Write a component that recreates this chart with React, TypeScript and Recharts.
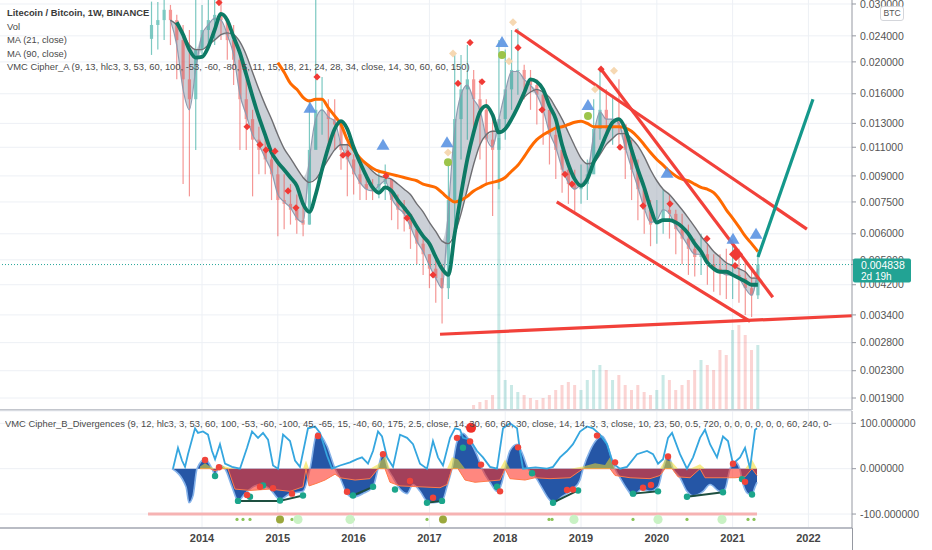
import React from "react";
import {
  ComposedChart,
  Bar,
  Line,
  Area,
  Scatter,
  XAxis,
  YAxis,
  ReferenceLine,
  CartesianGrid,
} from "recharts";

const FONT = "'Liberation Sans', Arial, sans-serif";

// ---------- axes ----------
const YEAR_TICKS = [2014, 2015, 2016, 2017, 2018, 2019, 2020, 2021, 2022];
const PRICE_TICKS = [0.03, 0.024, 0.02, 0.016, 0.013, 0.011, 0.009, 0.0075, 0.006, 0.005, 0.0042, 0.0034, 0.0028, 0.0023, 0.0019];
const OSC_TICKS = [100, 0, -100];
const X_DOMAIN = [2011.335, 2022.575];
const PRICE_DOMAIN = [0.001747, 0.03085];
const VOL_DOMAIN = [0, 410];
const OSC_DOMAIN = [-130.8, 127.2];
const LAST_PRICE = 0.004838;
const COUNTDOWN = "2d 19h";

// ---------- monthly candles (first month May 2013) ----------
const FIRST_YEAR = 2013;
const FIRST_MONTH = 5;
const FIRST_OPEN = 0.0235;

const HIGH = [
  0.0305, 0.0304, 0.0309, 0.0298, 0.0278, 0.0259, 0.025, 0.0309, 0.0298, 0.0309,
  0.0309, 0.0309, 0.0268, 0.0259, 0.0218, 0.0177, 0.0143, 0.0127, 0.012, 0.0108,
  0.0101, 0.0091, 0.0085, 0.0079, 0.0074, 0.0154, 0.0309, 0.018, 0.0154, 0.0154,
  0.0125, 0.0116, 0.01045, 0.0101, 0.0091, 0.0088, 0.0094, 0.00975, 0.0085, 0.0079,
  0.0076, 0.0069, 0.0064, 0.0058, 0.0052, 0.005, 0.00485, 0.0101, 0.021, 0.021,
  0.0225, 0.0189, 0.0177, 0.0154, 0.0138, 0.0233, 0.0218, 0.025, 0.0253, 0.0196,
  0.0189, 0.0177, 0.0165, 0.0143, 0.0129, 0.0108, 0.0101, 0.0094, 0.00975, 0.0101,
  0.0154, 0.0189, 0.0165, 0.0159, 0.0177, 0.0129, 0.0116, 0.0101, 0.0085, 0.0076,
  0.0076, 0.0082, 0.0079, 0.0071, 0.0069, 0.0064, 0.0058, 0.006, 0.0056, 0.0052,
  0.0052, 0.0054, 0.0058, 0.0054, 0.005, 0.0047, 0.0053,
];
const LOW = [
  0.021, 0.0218, 0.0233, 0.0225, 0.0177, 0.0085, 0.0078, 0.0108, 0.021, 0.0218,
  0.0225, 0.0233, 0.0203, 0.017, 0.0108, 0.0108, 0.0078, 0.0091, 0.0091, 0.0076,
  0.0059, 0.0062, 0.0064, 0.006, 0.0059, 0.0064, 0.0116, 0.012, 0.0112, 0.0108,
  0.0094, 0.0078, 0.0079, 0.0076, 0.0076, 0.0076, 0.0077, 0.0076, 0.0066, 0.0062,
  0.0061, 0.0054, 0.00485, 0.0045, 0.0041, 0.0037, 0.0032, 0.0038, 0.0062, 0.0101,
  0.0116, 0.012, 0.0101, 0.0085, 0.0068, 0.0082, 0.0116, 0.0143, 0.0159, 0.0154,
  0.0143, 0.0129, 0.0112, 0.00975, 0.0088, 0.008, 0.0074, 0.007, 0.0074, 0.0076,
  0.0094, 0.0116, 0.012, 0.0112, 0.0108, 0.0088, 0.0076, 0.0066, 0.006, 0.0055,
  0.0056, 0.006, 0.0058, 0.0052, 0.00485, 0.0045, 0.00445, 0.0045, 0.0042, 0.004,
  0.0039, 0.0038, 0.0038, 0.0037, 0.0034, 0.00335, 0.0038,
];
const CLOSE = [
  0.0259, 0.0268, 0.0288, 0.0268, 0.0233, 0.0177, 0.0154, 0.0218, 0.025, 0.0268,
  0.0278, 0.0268, 0.0233, 0.0203, 0.0154, 0.0134, 0.0116, 0.0108, 0.0101, 0.0091,
  0.0076, 0.0074, 0.0071, 0.0066, 0.0064, 0.0108, 0.0143, 0.0143, 0.0134, 0.0129,
  0.0108, 0.0101, 0.0091, 0.0085, 0.0082, 0.0081, 0.0085, 0.0088, 0.0076, 0.0071,
  0.0069, 0.0062, 0.0056, 0.0052, 0.0047, 0.0044, 0.0041, 0.0076, 0.0134, 0.0165,
  0.0177, 0.0154, 0.0143, 0.0116, 0.0108, 0.0134, 0.0165, 0.0189, 0.0189, 0.0177,
  0.017, 0.0159, 0.0143, 0.012, 0.0108, 0.0094, 0.0085, 0.0082, 0.0085, 0.0091,
  0.0125, 0.0143, 0.0134, 0.0134, 0.0129, 0.0108, 0.0094, 0.0082, 0.0071, 0.0064,
  0.0066, 0.0071, 0.0069, 0.0062, 0.0058, 0.0054, 0.0051, 0.0052, 0.00485, 0.0047,
  0.00462, 0.0045, 0.0045, 0.0044, 0.0041, 0.0039, 0.004838,
];
const MA21 = [
  null, null, null, null, 0.0264, 0.0242, 0.0218, 0.0206, 0.0207, 0.0222,
  0.025, 0.028, 0.0268, 0.0238, 0.0213, 0.0183, 0.0157, 0.0136, 0.012, 0.0106,
  0.0099, 0.0094, 0.0089, 0.0084, 0.0074, 0.007, 0.0079, 0.0094, 0.011, 0.0125,
  0.0132, 0.0125, 0.011, 0.0099, 0.009, 0.0083, 0.008, 0.0083, 0.0081, 0.0076,
  0.0072, 0.0068, 0.0063, 0.0059, 0.0056, 0.0051, 0.0047, 0.0045, 0.006, 0.0079,
  0.0101, 0.0122, 0.0141, 0.0147, 0.0138, 0.0122, 0.0125, 0.0134, 0.0146, 0.0161,
  0.0177, 0.0174, 0.0165, 0.0147, 0.0134, 0.0112, 0.00975, 0.0088, 0.0084, 0.0088,
  0.0099, 0.0108, 0.012, 0.0131, 0.0134, 0.0125, 0.0108, 0.0094, 0.0083, 0.0072,
  0.0065, 0.0066, 0.0066, 0.0065, 0.0063, 0.006, 0.0056, 0.0053, 0.0049, 0.0047,
  0.0046, 0.0046, 0.0045, 0.0044, 0.0043, 0.0042, 0.0042,
];
const MA90 = [
  null, null, null, null, null, null, null, null, null, null,
  null, null, null, null, null, null, null, null, null, null,
  0.0199, 0.0186, 0.0172, 0.0165, 0.0156, 0.0152, 0.0154, 0.0154, 0.0145, 0.0137,
  0.0129, 0.0116, 0.0108, 0.0102, 0.0098, 0.0095, 0.0093, 0.0092, 0.0091, 0.009,
  0.0089, 0.0088, 0.0087, 0.0085, 0.0084, 0.0083, 0.008, 0.0077, 0.0075, 0.0076,
  0.0078, 0.0081, 0.0083, 0.0085, 0.0086, 0.0087, 0.0089, 0.0093, 0.0097, 0.0103,
  0.011, 0.0116, 0.012, 0.0123, 0.0126, 0.0127, 0.0129, 0.0131, 0.0132, 0.013,
  0.0127, 0.0127, 0.0127, 0.0127, 0.0127, 0.0126, 0.0123, 0.0118, 0.0112, 0.0106,
  0.0101, 0.0097, 0.0093, 0.009, 0.0088, 0.0087, 0.0085, 0.0083, 0.0082, 0.008,
  0.0076, 0.0071, 0.0067, 0.0063, 0.0059, 0.0056, 0.0053,
];
const EMA_FAST = [
  null, null, null, 0.0268, 0.0225, 0.0165, 0.0143, 0.0189, 0.0242, 0.0259,
  0.0272, 0.0268, 0.0242, 0.021, 0.0159, 0.0138, 0.012, 0.0112, 0.0102, 0.0093,
  0.0079, 0.0075, 0.0072, 0.0067, 0.0065, 0.0101, 0.0134, 0.0143, 0.0136, 0.0132,
  0.0112, 0.0102, 0.0093, 0.0086, 0.0082, 0.0081, 0.0084, 0.0087, 0.0077, 0.0072,
  0.0069, 0.0063, 0.0057, 0.0053, 0.0048, 0.0044, 0.0041, 0.0071, 0.0125, 0.0159,
  0.017, 0.0154, 0.0143, 0.0118, 0.011, 0.0134, 0.0162, 0.0187, 0.0187, 0.0177,
  0.017, 0.0159, 0.0143, 0.0122, 0.011, 0.0095, 0.0086, 0.0082, 0.0085, 0.009,
  0.012, 0.0141, 0.0134, 0.0134, 0.013, 0.011, 0.0095, 0.0083, 0.0072, 0.0065,
  0.0066, 0.0071, 0.0069, 0.0063, 0.0059, 0.0055, 0.0052, 0.0052, 0.0049, 0.0047,
  0.0046, 0.0045, 0.0045, 0.0044, 0.0041, 0.0039, 0.0047,
];
const EMA_SLOW = [
  null, null, null, 0.0268, 0.0259, 0.0242, 0.0225, 0.0218, 0.0218, 0.0225,
  0.0233, 0.0242, 0.0245, 0.0242, 0.023, 0.021, 0.0186, 0.0165, 0.0148, 0.0134,
  0.012, 0.0109, 0.0102, 0.0095, 0.0089, 0.0086, 0.0088, 0.0094, 0.0101, 0.0108,
  0.0112, 0.0112, 0.0108, 0.0102, 0.00975, 0.0093, 0.009, 0.0089, 0.0088, 0.0085,
  0.0082, 0.0079, 0.0074, 0.007, 0.0065, 0.0061, 0.0057, 0.0056, 0.006, 0.0069,
  0.0082, 0.00975, 0.0112, 0.012, 0.0123, 0.0123, 0.0126, 0.0135, 0.0145, 0.0156,
  0.0162, 0.0165, 0.0162, 0.0156, 0.0145, 0.0134, 0.0122, 0.0111, 0.0102, 0.0098,
  0.0099, 0.01045, 0.0112, 0.0117, 0.0121, 0.0121, 0.0117, 0.0111, 0.0103, 0.0094,
  0.0087, 0.0082, 0.0079, 0.0075, 0.0071, 0.0067, 0.0063, 0.0059, 0.0056, 0.0053,
  0.0051, 0.0049, 0.0048, 0.0047, 0.0046, 0.0044, 0.0044,
];
const VOLUME = [
  0, 0, 0, 0, 0, 0, 0, 0, 0, 0,
  0, 0, 0, 0, 0, 0, 0, 0, 0, 0,
  0, 0, 0, 0, 0, 0, 0, 0, 0, 0,
  0, 0, 0, 0, 0, 0, 0, 0, 0, 0,
  0, 0, 0, 0, 0, 0, 0, 0, 0, 0,
  0, 5, 8, 10, 15, 272, 30, 25, 18, 15,
  12, 10, 12, 15, 20, 25, 28, 25, 20, 30,
  40, 45, 40, 30, 35, 25, 20, 25, 18, 15,
  20, 35, 30, 20, 25, 30, 40, 50, 45, 40,
  60, 55, 80, 85, 75, 60, 65,
];

// ---------- drawn objects on the price pane ----------
const TRENDLINES = [
  { x1: 2017.14, y1: 0.00297, x2: 2022.575, y2: 0.00338 },
  { x1: 2018.13, y1: 0.025, x2: 2021.98, y2: 0.0062 },
  { x1: 2018.68, y1: 0.0075, x2: 2021.23, y2: 0.00325 },
  { x1: 2019.25, y1: 0.0192, x2: 2021.53, y2: 0.00385 },
];
const PROJECTION = { x1: 2021.335, y1: 0.0051, x2: 2022.06, y2: 0.0154 };

const TRIANGLES = [
  [2015.425, 0.0145], [2016.388, 0.0112], [2017.232, 0.0114], [2017.958, 0.023],
  [2019.092, 0.0148], [2020.135, 0.0092], [2021.005, 0.0058], [2021.309, 0.006],
];
const RED_DIAMONDS = [
  [2014.224, 0.0303], [2015.517, 0.018], [2014.594, 0.0127], [2014.765, 0.0112],
  [2014.844, 0.0108], [2014.963, 0.0107], [2015.135, 0.0081], [2015.24, 0.0072],
  [2015.86, 0.0104], [2015.926, 0.0105], [2016.427, 0.009], [2016.705, 0.0067],
  [2017.048, 0.0045], [2017.377, 0.0172], [2017.536, 0.0229], [2017.694, 0.0174],
  [2018.169, 0.0221], [2018.486, 0.0143], [2018.789, 0.0091], [2018.881, 0.0085],
  [2019.264, 0.019], [2019.515, 0.011], [2019.818, 0.0073], [2020.174, 0.0074],
  [2020.662, 0.0058], [2021.032, 0.0048],
];
const BIG_DIAMONDS = [[2021.045, 0.0052]];
const PALE_DIAMONDS = [
  [2017.311, 0.0212], [2017.245, 0.0106], [2018.103, 0.0264], [2018.05, 0.0201],
  [2019.435, 0.0188], [2019.185, 0.0165],
];
const GREEN_DOTS = [[2017.245, 0.0099], [2017.958, 0.021], [2019.092, 0.0137]];

// ---------- oscillator pane ----------
const STOCH = [
  [2013.617, 0], [2013.683, 46], [2013.736, 18], [2013.776, 4], [2013.815, 32], [2013.908, 89],
  [2013.947, 79], [2014.013, 82], [2014.079, 75], [2014.132, 39], [2014.172, 21], [2014.237, 54],
  [2014.303, 11], [2014.396, 4], [2014.501, 0], [2014.594, 46], [2014.66, 82], [2014.739, 68],
  [2014.805, 79], [2014.871, 64], [2014.937, 7], [2015.003, 0], [2015.069, 75], [2015.161, 61],
  [2015.227, 18], [2015.293, 4], [2015.398, 89], [2015.491, 93], [2015.557, 79], [2015.649, 29],
  [2015.715, 0], [2015.821, 7], [2015.953, 14], [2016.045, 21], [2016.111, 25], [2016.19, 11],
  [2016.256, 39], [2016.322, 82], [2016.375, 71], [2016.441, 25], [2016.52, 4], [2016.612, 75],
  [2016.705, 68], [2016.784, 54], [2016.876, 11], [2016.968, 0], [2017.047, 61], [2017.113, 25],
  [2017.179, 7], [2017.272, 68], [2017.338, 89], [2017.404, 86], [2017.443, 68], [2017.536, 64],
  [2017.628, 39], [2017.707, 25], [2017.799, 4], [2017.892, 0], [2017.971, 89], [2018.063, 100],
  [2018.156, 89], [2018.195, 39], [2018.235, 0], [2018.4, 3], [2018.551, 0], [2018.631, 4],
  [2018.723, 25], [2018.815, 39], [2018.894, 54], [2018.987, 82], [2019.079, 93], [2019.158, 89],
  [2019.251, 75], [2019.343, 54], [2019.422, 11], [2019.514, 0], [2019.607, 4], [2019.739, 32],
  [2019.871, 39], [2019.95, 32], [2020.016, 11], [2020.082, 21], [2020.148, 68], [2020.201, 79],
  [2020.306, 32], [2020.398, 0], [2020.478, 25], [2020.57, 68], [2020.636, 86], [2020.702, 54],
  [2020.794, 25], [2020.873, 71], [2020.939, 61], [2021.005, 11], [2021.098, 25], [2021.164, 46],
  [2021.23, 0], [2021.296, 86], [2021.322, 89],
];
const WAVE = [
  [2013.604, 0], [2013.789, -40], [2013.828, -75], [2013.881, -60], [2013.934, 0], [2014.04, 21],
  [2014.132, 0], [2014.172, -14], [2014.211, 0], [2014.251, 7], [2014.303, 0], [2014.396, -40],
  [2014.475, -71], [2014.567, -55], [2014.673, -40], [2014.765, -35], [2014.897, -45], [2015.029, -68],
  [2015.161, -55], [2015.332, -50], [2015.425, 0], [2015.517, 79], [2015.583, 70], [2015.649, 50],
  [2015.755, 0], [2015.821, -20], [2015.913, -55], [2015.992, -63], [2016.124, -55], [2016.256, -40],
  [2016.322, 0], [2016.388, 36], [2016.454, 0], [2016.52, -20], [2016.612, -45], [2016.705, -55],
  [2016.784, -35], [2016.876, -50], [2016.968, -72], [2017.048, -75], [2017.166, -72], [2017.232, -40],
  [2017.298, 0], [2017.364, 60], [2017.443, 78], [2017.536, 60], [2017.628, 30], [2017.694, 0],
  [2017.799, -30], [2017.892, -50], [2017.958, -30], [2017.998, 0], [2018.063, 40], [2018.156, 54],
  [2018.235, 30], [2018.301, 0], [2018.367, -10], [2018.459, -35], [2018.591, -70], [2018.631, -75],
  [2018.763, -60], [2018.894, -45], [2018.987, -25], [2019.027, 0], [2019.119, 40], [2019.211, 65],
  [2019.277, 72], [2019.343, 55], [2019.409, 20], [2019.449, 0], [2019.515, -20], [2019.607, -45],
  [2019.686, -60], [2019.805, -45], [2019.91, -50], [2020.016, -40], [2020.082, 0], [2020.148, 30],
  [2020.214, 0], [2020.306, -20], [2020.398, -50], [2020.478, -60], [2020.61, -50], [2020.702, -35],
  [2020.834, -50], [2020.9, -45], [2020.966, 0], [2021.032, 15], [2021.095, 0], [2021.124, -25],
  [2021.203, -55], [2021.256, -57], [2021.296, -40], [2021.322, -30],
];
const MFI = [
  [2013.974, 5], [2014.04, 12], [2014.106, 5], [2014.172, -5], [2014.237, 8], [2014.343, 3],
  [2014.435, -45], [2014.633, -48], [2014.897, -45], [2015.161, -50], [2015.332, -40], [2015.372, 18],
  [2015.412, -38], [2015.517, -32], [2015.623, -25], [2015.755, -12], [2015.821, -20], [2016.019, -25],
  [2016.216, -22], [2016.322, 10], [2016.414, 28], [2016.48, -30], [2016.612, -38], [2016.876, -40],
  [2017.14, -42], [2017.232, -35], [2017.298, 25], [2017.377, 20], [2017.47, -25], [2017.602, -30],
  [2017.734, -28], [2017.932, -25], [2017.998, 20], [2018.063, -22], [2018.261, -25], [2018.393, -20],
  [2018.591, -22], [2018.855, -20], [2019.027, 5], [2019.185, 12], [2019.317, 8], [2019.383, 25],
  [2019.449, -15], [2019.647, -20], [2019.91, -22], [2020.042, -15], [2020.108, 20], [2020.201, 15],
  [2020.28, -18], [2020.438, -20], [2020.57, 10], [2020.636, -20], [2020.834, -20], [2021.032, -20],
  [2021.164, -18], [2021.256, 20], [2021.322, -15],
];
const OSC_GREEN = [
  [2014.172, -16], [2014.475, -71], [2014.633, -62], [2014.805, -37], [2015.029, -70], [2015.332, -59],
  [2015.992, -59], [2016.256, -40], [2016.546, -46], [2016.968, -75], [2017.166, -71], [2017.443, 46],
  [2017.892, -40], [2018.354, -10], [2018.631, -75], [2018.961, -48], [2019.686, -55], [2020.016, -50],
  [2020.398, -62], [2020.873, -52], [2021.124, -23], [2021.256, -57],
];
const OSC_RED = [
  [2014.04, 19], [2014.224, 3], [2014.594, -58], [2014.765, -40], [2014.937, -43], [2015.187, -55],
  [2015.53, 72], [2015.913, -51], [2016.388, 32], [2016.744, -27], [2017.048, -64], [2017.364, 68],
  [2017.536, 60], [2017.681, 9], [2017.932, -50], [2018.169, 47], [2018.815, -47], [2018.894, -46],
  [2019.211, 73], [2019.449, 14], [2019.818, -42], [2019.923, -36], [2020.148, 27], [2021.005, 11],
  [2021.164, -29],
];
const OSC_BIG_RED = [[2017.549, 90]];
const DIVERGENCES = [
  [2014.475, -71, 2015.029, -71], [2015.029, -71, 2015.332, -59], [2015.992, -59, 2016.256, -40],
  [2016.968, -75, 2017.166, -71], [2018.631, -75, 2018.961, -48], [2019.686, -55, 2020.016, -50],
  [2020.398, -62, 2020.873, -52],
];
const OVERSOLD_LINE = { x1: 2013.288, x2: 2021.322, y: -100 };
const SIGNAL_ROW = -112;
const SIGNAL_BIG_OLIVE = [2015.029, 2017.179];
const SIGNAL_BIG_LIGHT = [2015.266, 2015.953, 2018.907, 2020.016, 2020.86];
const SIGNAL_SMALL = [2014.462, 2014.541, 2014.633, 2015.187, 2015.992, 2016.968, 2018.578, 2018.618, 2019.686, 2020.398, 2021.203, 2021.282];

// ---------- derived tables ----------
const MONTHS = HIGH.map((_, i) => {
  const m = FIRST_MONTH - 1 + i;
  return FIRST_YEAR + Math.floor(m / 12) + (m % 12) / 12;
});
const priceRows = MONTHS.map((t, i) => ({
  t,
  open: i === 0 ? FIRST_OPEN : CLOSE[i - 1],
  high: HIGH[i],
  low: LOW[i],
  close: CLOSE[i],
  ma21: MA21[i],
  ma90: MA90[i],
  fast: EMA_FAST[i],
  slow: EMA_SLOW[i],
  vol: VOLUME[i] || null,
}));
const pts = (arr: number[][]) => arr.map(([t, p]) => ({ t, p }));
const oscRows = (arr: number[][]) => arr.map(([t, v]) => ({ t, v }));
const mfiRows = MFI.map(([t, v]) => ({ t, pos: Math.max(v, 0), neg: Math.min(v, 0) }));
// axis ticks: the live-price tag is drawn last so it sits on top of the other labels
const AXIS_TICKS = [...PRICE_TICKS, LAST_PRICE];

const UP = "#26a69a";
const DOWN = "#ef5350";

const Candle = (props: any) => {
  const { x, y, width, height, payload } = props;
  if (!payload || height == null || isNaN(y)) return null;
  const top = Math.min(y, y + height);
  const h = Math.abs(height);
  const cx = x + width / 2;
  const lh = Math.log(payload.high);
  const ll = Math.log(payload.low);
  const pos = (v: number) => top + (h * (lh - Math.log(v))) / (lh - ll || 1);
  const up = payload.close >= payload.open;
  const col = up ? UP : DOWN;
  const yo = pos(payload.open);
  const yc = pos(payload.close);
  return (
    <g opacity={0.6}>
      <line x1={cx} x2={cx} y1={top} y2={top + h} stroke={col} strokeWidth={1.2} />
      <rect x={cx - 1.6} width={3.2} y={Math.min(yo, yc)} height={Math.max(1, Math.abs(yo - yc))} fill={col} />
    </g>
  );
};

const VolBar = (props: any) => {
  const { x, y, width, height, payload } = props;
  if (!payload || !height || isNaN(y)) return null;
  const cx = x + width / 2;
  const up = payload.close >= payload.open;
  return <rect x={cx - 1.5} y={Math.min(y, y + height)} width={3} height={Math.abs(height)} fill={up ? UP : DOWN} opacity={0.25} />;
};

const Triangle = (p: any) => (
  <path d={`M${p.cx},${p.cy - 6} L${p.cx + 6.5},${p.cy + 5} L${p.cx - 6.5},${p.cy + 5} Z`} fill="#5b93e2" opacity={0.9} />
);
const Diamond = (color: string, r: number) => (p: any) => (
  <path d={`M${p.cx},${p.cy - r} L${p.cx + r},${p.cy} L${p.cx},${p.cy + r} L${p.cx - r},${p.cy} Z`} fill={color} />
);
const Dot = (color: string, r: number) => (p: any) => <circle cx={p.cx} cy={p.cy} r={r} fill={color} />;

const PriceTick = (props: any) => {
  const { x, y, payload } = props;
  const v = payload.value;
  if (v === LAST_PRICE) {
    return (
      <g>
        <rect x={x - 7} y={y - 6} width={58} height={24} rx={2} fill="#22a394" />
        <text x={x + 1} y={y + 4.5} fill="#fff" fontSize={10.5} fontFamily={FONT}>
          {LAST_PRICE.toFixed(6)}
        </text>
        <text x={x + 1} y={y + 15} fill="#fff" fontSize={10} fontFamily={FONT}>
          {COUNTDOWN}
        </text>
      </g>
    );
  }
  return (
    <text x={x} y={y} dy="0.35em" fill="#555" fontSize={10.5} fontFamily={FONT}>
      {v.toFixed(6)}
    </text>
  );
};

const axisTick = { fontSize: 10.5, fill: "#555", fontFamily: FONT };

export default function App() {
  return (
    <div style={{ position: "relative", width: 932, height: 550, overflow: "hidden", background: "#fff", fontFamily: FONT }}>
      <style>{"body{margin:0}"}</style>
      <div style={{ position: "absolute", left: 0, top: 0 }}>
        <ComposedChart width={932} height={410} data={priceRows} margin={{ top: 0, right: 0, bottom: 0, left: 0 }} barGap={-3}>
          <CartesianGrid yAxisId="p" stroke="#edf0f5" verticalValues={YEAR_TICKS} horizontalValues={PRICE_TICKS} />
          <XAxis dataKey="t" type="number" domain={X_DOMAIN} ticks={YEAR_TICKS} allowDataOverflow hide />
          <YAxis
            yAxisId="p"
            orientation="right"
            scale="log"
            domain={PRICE_DOMAIN}
            ticks={AXIS_TICKS}
            allowDataOverflow
            width={80}
            tick={(p: any) => <PriceTick {...p} />}
            tickSize={4}
            tickMargin={4}
            tickLine={{ stroke: "#9598a1" }}
            axisLine={{ stroke: "#9598a1" }}
            interval={0}
          />
          <YAxis yAxisId="v" hide domain={VOL_DOMAIN} />
          <Bar yAxisId="v" dataKey="vol" barSize={3} shape={(p: any) => <VolBar {...p} />} isAnimationActive={false} />
          <Bar yAxisId="p" dataKey={(d: any) => [d.low, d.high]} barSize={3} shape={(p: any) => <Candle {...p} />} isAnimationActive={false} />
          <Area
            yAxisId="p"
            type="monotone"
            dataKey={(d: any) => (d.fast == null ? null : [Math.min(d.fast, d.slow), Math.max(d.fast, d.slow)])}
            fill="#a9b1bd"
            fillOpacity={0.6}
            stroke="none"
            isAnimationActive={false}
          />
          <Line yAxisId="p" type="monotone" dataKey="fast" stroke="#8e9bb0" strokeWidth={1.2} dot={false} isAnimationActive={false} />
          <Line yAxisId="p" type="monotone" dataKey="slow" stroke="#6e6e72" strokeWidth={1.4} dot={false} isAnimationActive={false} />
          <Line yAxisId="p" type="monotone" dataKey="ma90" stroke="#ff6a00" strokeWidth={3} dot={false} isAnimationActive={false} />
          <Line yAxisId="p" type="monotone" dataKey="ma21" stroke="#0d7a65" strokeWidth={3.8} dot={false} isAnimationActive={false} />
          <ReferenceLine yAxisId="p" y={LAST_PRICE} stroke={UP} strokeDasharray="1 2" />
          {TRENDLINES.map((s, i) => (
            <ReferenceLine
              key={"tl" + i}
              yAxisId="p"
              segment={[{ x: s.x1, y: s.y1 }, { x: s.x2, y: s.y2 }]}
              stroke="#f2413a"
              strokeWidth={3.2}
            />
          ))}
          <ReferenceLine
            yAxisId="p"
            segment={[{ x: PROJECTION.x1, y: PROJECTION.y1 }, { x: PROJECTION.x2, y: PROJECTION.y2 }]}
            stroke="#14988b"
            strokeWidth={3.2}
          />
          <Scatter yAxisId="p" data={pts(PALE_DIAMONDS)} dataKey="p" shape={Diamond("#f6d8b2", 4)} isAnimationActive={false} />
          <Scatter yAxisId="p" data={pts(GREEN_DOTS)} dataKey="p" shape={Dot("#9cc44a", 4)} isAnimationActive={false} />
          <Scatter yAxisId="p" data={pts(RED_DIAMONDS)} dataKey="p" shape={Diamond("#f03a35", 3.6)} isAnimationActive={false} />
          <Scatter yAxisId="p" data={pts(BIG_DIAMONDS)} dataKey="p" shape={Diamond("#f03a35", 7)} isAnimationActive={false} />
          <Scatter yAxisId="p" data={pts(TRIANGLES)} dataKey="p" shape={Triangle} isAnimationActive={false} />
        </ComposedChart>
      </div>

      <div style={{ position: "absolute", left: 0, top: 409, width: 852, height: 2, background: "#c3c6cd" }} />

      <div style={{ position: "absolute", left: 0, top: 410 }}>
        <ComposedChart width={932} height={140} margin={{ top: 1, right: 0, bottom: 0, left: 0 }}>
          <CartesianGrid yAxisId="o" stroke="#edf0f5" verticalValues={YEAR_TICKS} />
          <XAxis
            dataKey="t"
            type="number"
            domain={X_DOMAIN}
            ticks={YEAR_TICKS}
            allowDataOverflow
            height={22}
            tickLine={false}
            tickSize={0}
            tickMargin={6}
            axisLine={{ stroke: "#b9bcc4", strokeWidth: 2 }}
            tick={{ fontSize: 11, fill: "#444", fontWeight: 600, fontFamily: FONT }}
            interval={0}
          />
          <YAxis
            yAxisId="o"
            orientation="right"
            domain={OSC_DOMAIN}
            ticks={OSC_TICKS}
            allowDataOverflow
            width={80}
            tick={axisTick}
            tickSize={4}
            tickMargin={4}
            tickLine={{ stroke: "#9598a1" }}
            axisLine={{ stroke: "#9598a1" }}
            tickFormatter={(v: number) => v.toFixed(6)}
            interval={0}
          />
          <ReferenceLine
            yAxisId="o"
            segment={[{ x: OVERSOLD_LINE.x1, y: OVERSOLD_LINE.y }, { x: OVERSOLD_LINE.x2, y: OVERSOLD_LINE.y }]}
            stroke="#f6b3b3"
            strokeWidth={3}
          />
          <Area yAxisId="o" data={oscRows(WAVE)} type="monotone" dataKey="v" baseValue={0} fill="#2556a6" fillOpacity={1} stroke="#86b3ea" strokeWidth={1.6} isAnimationActive={false} />
          <Area yAxisId="o" data={mfiRows} type="linear" dataKey="neg" baseValue={0} fill="rgb(255,48,35)" fillOpacity={0.58} stroke="#ff7a4a" strokeWidth={1} isAnimationActive={false} />
          <Area yAxisId="o" data={mfiRows} type="linear" dataKey="pos" baseValue={0} fill="rgb(240,220,40)" fillOpacity={0.55} stroke="none" isAnimationActive={false} />
          <Line yAxisId="o" data={oscRows(STOCH)} type="linear" dataKey="v" stroke="#35a6df" strokeWidth={1.8} dot={false} isAnimationActive={false} />
          {DIVERGENCES.map((d, i) => (
            <ReferenceLine key={"dv" + i} yAxisId="o" segment={[{ x: d[0], y: d[1] }, { x: d[2], y: d[3] }]} stroke="#1e4f40" strokeWidth={2} />
          ))}
          <Scatter yAxisId="o" data={OSC_GREEN.map(([t, v]) => ({ t, p: v }))} dataKey="p" shape={Dot("#1ba58b", 3.2)} isAnimationActive={false} />
          <Scatter yAxisId="o" data={OSC_RED.map(([t, v]) => ({ t, p: v }))} dataKey="p" shape={Dot("#f0443a", 3.2)} isAnimationActive={false} />
          <Scatter yAxisId="o" data={OSC_BIG_RED.map(([t, v]) => ({ t, p: v }))} dataKey="p" shape={Dot("#f0302a", 5)} isAnimationActive={false} />
          <Scatter yAxisId="o" data={SIGNAL_SMALL.map((t) => ({ t, p: SIGNAL_ROW }))} dataKey="p" shape={Dot("#8cc45a", 1.6)} isAnimationActive={false} />
          <Scatter yAxisId="o" data={SIGNAL_BIG_OLIVE.map((t) => ({ t, p: SIGNAL_ROW }))} dataKey="p" shape={Dot("#9ba83c", 4)} isAnimationActive={false} />
          <Scatter yAxisId="o" data={SIGNAL_BIG_LIGHT.map((t) => ({ t, p: SIGNAL_ROW }))} dataKey="p" shape={Dot("#c9f2c4", 4.6)} isAnimationActive={false} />
        </ComposedChart>
      </div>

      <div style={{ position: "absolute", left: 852, top: 528, width: 1, height: 22, background: "#9598a1" }} />

      <div style={{ position: "absolute", left: 7, top: 6, fontSize: 9.4, lineHeight: "13.6px", color: "#4a4a4a", whiteSpace: "nowrap", pointerEvents: "none" }}>
        <div style={{ fontWeight: 700, color: "#3a3a3a" }}>Litecoin / Bitcoin, 1W, BINANCE</div>
        <div>Vol</div>
        <div>MA (21, close)</div>
        <div>MA (90, close)</div>
        <div>VMC Cipher_A (9, 13, hlc3, 3, 53, 60, 100, -53, -60, -80, 5, 11, 15, 18, 21, 24, 28, 34, close, 14, 30, 60, 60, 150)</div>
      </div>

      <div style={{ position: "absolute", left: 5, top: 417, width: 846, overflow: "hidden", fontSize: 9.4, lineHeight: "13.6px", color: "#4a4a4a", whiteSpace: "nowrap" }}>
        VMC Cipher_B_Divergences (9, 12, hlc3, 3, 53, 60, 100, -53, -60, -100, 45, -65, 15, -40, 60, 175, 2.5, close, 14, 30, 60, 60, 30, close, 14, 14, 3, 3, close, 10, 23, 50, 0.5, 720, 0, 0, 0, 0, 0, 0, 60, 240, 0-
      </div>

      <div style={{ position: "absolute", left: 880, top: 6, width: 22, height: 13, border: "1px solid #d4d6db", borderRadius: 3, background: "#fff", fontSize: 8.6, lineHeight: "13px", textAlign: "center", color: "#555" }}>
        BTC
      </div>
    </div>
  );
}
